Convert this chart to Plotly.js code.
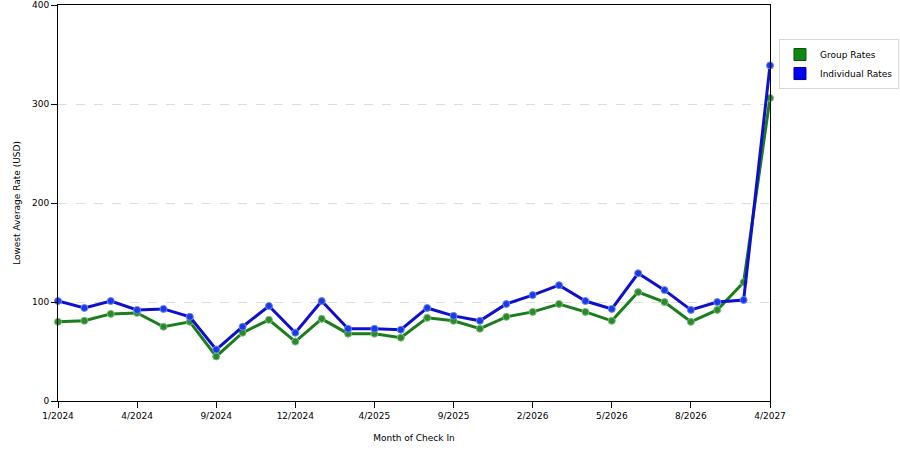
<!DOCTYPE html>
<html>
<head>
<meta charset="utf-8">
<script src="https://cdn.plot.ly/plotly-3.0.1.min.js"></script>
<style>
  html, body { margin: 0; padding: 0; background: #fff; }
  #chart { width: 900px; height: 450px; }
</style>
</head>
<body>
<div id="chart"></div>
<script>
// Month of check in (categorical, not every month present)
const months = [
    '1/2024', '2/2024', '3/2024', '4/2024', '5/2024', '7/2024', '9/2024',
    '10/2024', '11/2024', '12/2024', '1/2025', '3/2025', '4/2025', '5/2025',
    '7/2025', '9/2025', '10/2025', '12/2025', '2/2026', '3/2026', '4/2026',
    '5/2026', '6/2026', '7/2026', '8/2026', '9/2026', '10/2026', '4/2027'
];

const groupRates = [
    80, 81, 88, 89, 75, 80, 45, 69, 82, 60, 83, 68, 68, 64,
    84, 81, 73, 85, 90, 98, 90, 81, 110, 100, 80, 92, 120, 306
];

const individualRates = [
    101, 94, 101, 92, 93, 85, 52, 75, 96, 69, 101, 73, 73, 72,
    94, 86, 81, 98, 107, 117, 101, 93, 129, 112, 92, 100, 102, 339
];

const tickMonths = ['1/2024', '4/2024', '9/2024', '12/2024', '4/2025',
    '9/2025', '2/2026', '5/2026', '8/2026', '4/2027'];

const colors = {
    green: '#1b7d1b',
    greenMarker: '#2a8a2a',
    greenEdge: '#7fb87f',
    blue: '#1010cc',
    blueMarker: '#1a3ae6',
    blueEdge: '#6a88f5',
    legendGreen: '#118811',
    legendBlue: '#0000ff'
};

const font = { family: 'DejaVu Sans, Verdana, sans-serif', size: 9, color: '#000' };

const groupTrace = {
    x: months,
    y: groupRates,
    type: 'scatter',
    mode: 'lines+markers',
    name: 'Group Rates',
    showlegend: false,
    cliponaxis: false,
    line: { color: colors.green, width: 3 },
    marker: { size: 7, color: colors.greenMarker, line: { color: colors.greenEdge, width: 1 } }
};

const individualTrace = {
    x: months,
    y: individualRates,
    type: 'scatter',
    mode: 'lines+markers',
    name: 'Individual Rates',
    showlegend: false,
    cliponaxis: false,
    line: { color: colors.blue, width: 3 },
    marker: { size: 7, color: colors.blueMarker, line: { color: colors.blueEdge, width: 1 } }
};

// Legend-only entries with square swatches
const legendGroup = {
    x: [null], y: [null], type: 'scatter', mode: 'markers', name: 'Group Rates',
    marker: { symbol: 'square', size: 12, color: colors.legendGreen, line: { color: '#0b4d0b', width: 1 } }
};
const legendIndividual = {
    x: [null], y: [null], type: 'scatter', mode: 'markers', name: 'Individual Rates',
    marker: { symbol: 'square', size: 12, color: colors.legendBlue, line: { color: '#000080', width: 1 } }
};

const layout = {
    width: 900,
    height: 450,
    margin: { t: 5, r: 130, b: 49, l: 58, autoexpand: false },
    paper_bgcolor: '#fff',
    plot_bgcolor: '#fff',
    font: font,
    showlegend: true,
    legend: {
        x: 1.0126, y: 0.914,
        xanchor: 'left', yanchor: 'top',
        bordercolor: '#d8d8d8', borderwidth: 1,
        font: { family: font.family, size: 9, color: '#000' },
        tracegroupgap: 2,
        itemwidth: 30
    },
    xaxis: {
        type: 'category',
        categoryorder: 'array',
        categoryarray: months,
        range: [0, months.length - 1],
        tickmode: 'array',
        tickvals: tickMonths,
        ticktext: tickMonths,
        ticks: 'outside',
        ticklen: 6,
        tickcolor: '#000',
        showgrid: false,
        showline: true,
        linecolor: '#000',
        linewidth: 1,
        mirror: true,
        zeroline: false,
        title: { text: 'Month of Check In', font: font, standoff: 14 }
    },
    yaxis: {
        range: [0, 400],
        tickvals: [0, 100, 200, 300, 400],
        ticks: 'outside',
        ticklen: 6,
        tickcolor: '#000',
        showgrid: true,
        gridcolor: '#dcdcdc',
        griddash: 'dash',
        showline: true,
        linecolor: '#000',
        linewidth: 1,
        mirror: true,
        zeroline: false,
        title: { text: 'Lowest Average Rate (USD)', font: font, standoff: 9 }
    }
};

Plotly.newPlot('chart', [groupTrace, individualTrace, legendGroup, legendIndividual], layout,
    { displayModeBar: false, staticPlot: true });
</script>
</body>
</html>
